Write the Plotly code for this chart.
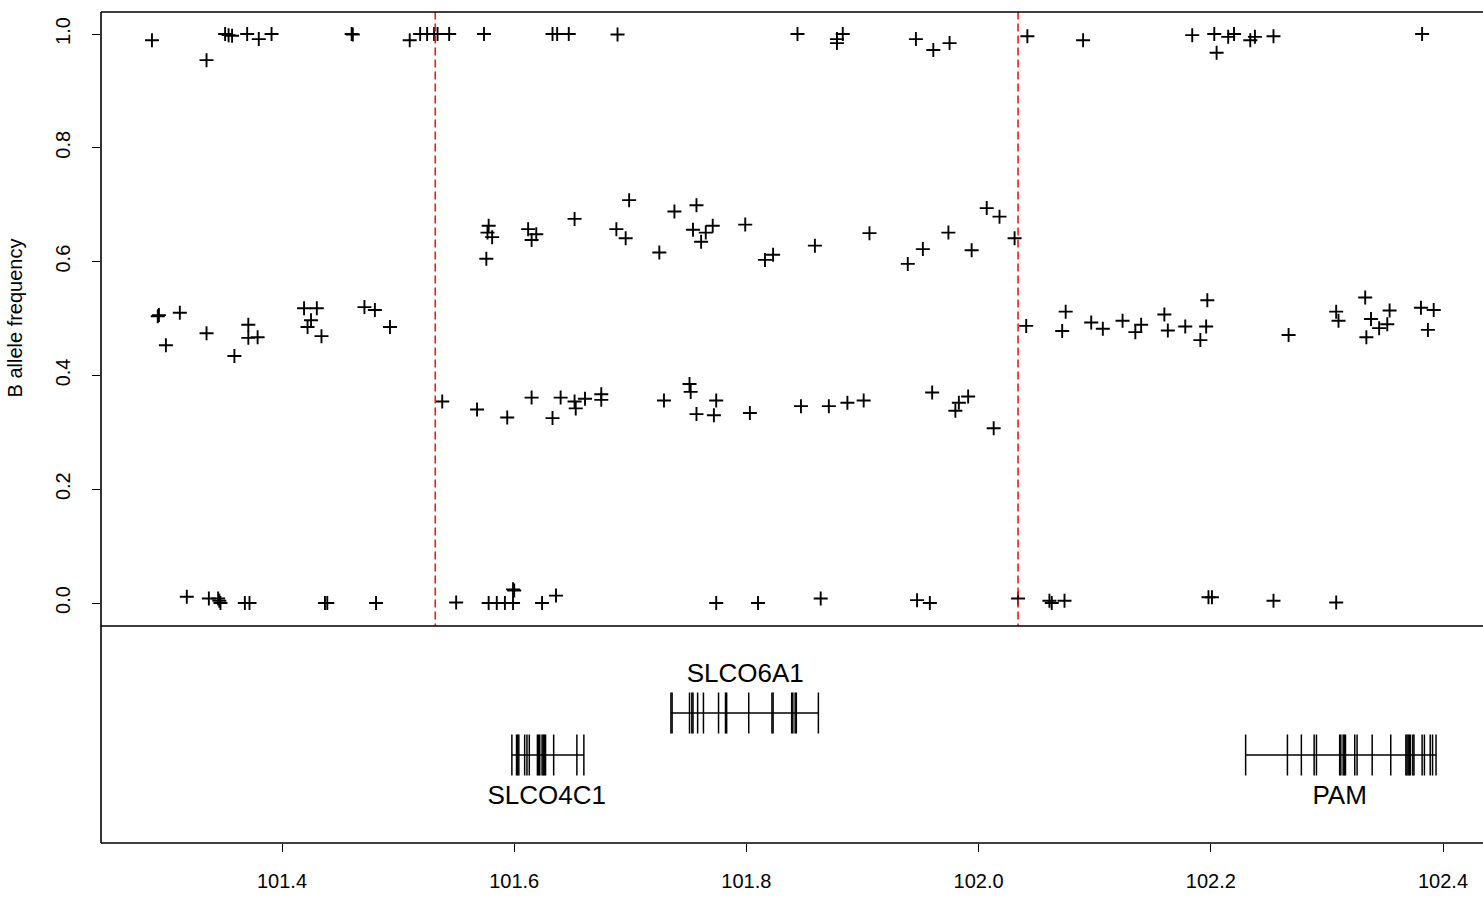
import plotly.graph_objects as go

# ---------------- data ----------------
# SNP positions (Mb) and B allele frequencies
pos_top = [101.288, 101.335, 101.351, 101.354, 101.357, 101.370, 101.380, 101.391, 101.460, 101.461,
           101.510, 101.519, 101.525, 101.531, 101.534, 101.544, 101.574, 101.633, 101.637, 101.647,
           101.689, 101.844, 101.878, 101.878, 101.883, 101.946, 101.961, 101.975, 102.042, 102.090,
           102.184, 102.203, 102.205, 102.215, 102.220, 102.234, 102.238, 102.254, 102.382]
baf_top = [0.989, 0.954, 1.000, 0.998, 0.997, 1.000, 0.991, 1.000, 1.000, 0.999,
           0.989, 1.000, 1.000, 1.000, 1.000, 1.000, 1.000, 1.000, 1.000, 1.000,
           0.999, 1.000, 0.984, 0.991, 1.000, 0.991, 0.972, 0.984, 0.996, 0.989,
           0.998, 1.000, 0.967, 0.995, 1.000, 0.989, 0.995, 0.996, 1.000]

pos_mid = [101.294, 101.293, 101.312, 101.300, 101.335, 101.359, 101.371, 101.371, 101.379, 101.419,
           101.430, 101.425, 101.422, 101.434, 101.471, 101.480, 101.493,
           101.578, 101.577, 101.581, 101.576, 101.612, 101.619, 101.615, 101.652, 101.699, 101.688,
           101.696, 101.725, 101.738, 101.757, 101.754, 101.765, 101.761, 101.771, 101.799, 101.816,
           101.823, 101.859, 101.906, 101.939, 101.952, 101.974, 101.994, 102.007, 102.018, 102.031,
           101.538, 101.568, 101.594, 101.615, 101.633, 101.640, 101.652, 101.653, 101.661, 101.675,
           101.675, 101.729, 101.751, 101.752, 101.757, 101.774, 101.772, 101.803, 101.847, 101.871,
           101.887, 101.901, 101.960, 101.983, 101.980, 101.991, 102.013,
           102.041, 102.075, 102.072, 102.097, 102.107, 102.124, 102.140, 102.135, 102.160, 102.163,
           102.178, 102.197, 102.196, 102.191, 102.267, 102.308, 102.310, 102.333, 102.338, 102.334,
           102.345, 102.352, 102.354, 102.381, 102.392, 102.387]
baf_mid = [0.506, 0.504, 0.510, 0.453, 0.474, 0.434, 0.489, 0.466, 0.467, 0.518,
           0.518, 0.497, 0.485, 0.469, 0.520, 0.515, 0.485,
           0.663, 0.651, 0.643, 0.605, 0.657, 0.648, 0.638, 0.675, 0.708, 0.657,
           0.641, 0.616, 0.688, 0.699, 0.656, 0.651, 0.635, 0.663, 0.665, 0.603,
           0.612, 0.628, 0.650, 0.596, 0.622, 0.651, 0.620, 0.694, 0.679, 0.641,
           0.354, 0.340, 0.326, 0.361, 0.325, 0.361, 0.354, 0.342, 0.359, 0.367,
           0.357, 0.356, 0.385, 0.371, 0.332, 0.356, 0.330, 0.334, 0.346, 0.346,
           0.352, 0.356, 0.370, 0.352, 0.338, 0.363, 0.307,
           0.487, 0.512, 0.478, 0.493, 0.482, 0.496, 0.489, 0.476, 0.507, 0.479,
           0.486, 0.532, 0.486, 0.462, 0.471, 0.512, 0.496, 0.537, 0.499, 0.467,
           0.483, 0.490, 0.514, 0.519, 0.515, 0.480]

pos_low = [101.318, 101.337, 101.345, 101.347, 101.346, 101.368, 101.372, 101.437, 101.439, 101.481,
           101.550, 101.578, 101.585, 101.592, 101.599, 101.599, 101.600, 101.624, 101.636,
           101.774, 101.810, 101.864, 101.947, 101.958, 102.034, 102.061, 102.063, 102.074,
           102.198, 102.201, 102.254, 102.308]
baf_low = [0.011, 0.008, 0.008, 0.000, 0.004, 0.000, 0.000, 0.000, 0.000, 0.000,
           0.001, 0.000, 0.000, 0.000, 0.000, 0.024, 0.022, 0.000, 0.013,
           0.000, 0.000, 0.008, 0.005, 0.000, 0.008, 0.004, 0.000, 0.004,
           0.010, 0.010, 0.004, 0.001]

# breakpoints (Mb)
breakpoints = [101.532, 102.034]

# genes
gene_names = ["SLCO4C1", "SLCO6A1", "PAM"]
gene_start = [101.598, 101.735, 102.230]
gene_end = [101.660, 101.862, 102.394]
gene_row = [0.4055, 0.599, 0.4055]
gene_label_y = [0.212, 0.774, 0.212]
gene_label_x = [101.628, 101.799, 102.311]
gene_exons = [
    [101.598, 101.602, 101.603, 101.604, 101.609, 101.611, 101.613, 101.620, 101.621, 101.622,
     101.624, 101.625, 101.626, 101.627, 101.634, 101.654, 101.660],
    [101.735, 101.736, 101.751, 101.753, 101.754, 101.758, 101.763, 101.776, 101.782, 101.783,
     101.802, 101.822, 101.823, 101.839, 101.840, 101.842, 101.843, 101.862],
    [102.230, 102.266, 102.278, 102.289, 102.291, 102.311, 102.312, 102.314, 102.315, 102.316,
     102.324, 102.326, 102.339, 102.355, 102.368, 102.369, 102.370, 102.371, 102.372, 102.374,
     102.375, 102.382, 102.384, 102.389, 102.391, 102.394],
]

x_ticks = [101.4, 101.6, 101.8, 102.0, 102.2, 102.4]
y_ticks = [0.0, 0.2, 0.4, 0.6, 0.8, 1.0]

# ---------------- figure ----------------
W, H = 1483, 898
ML, MT, MB = 101, 12, 55
plot_h = H - MT - MB
split = 217 / plot_h
EXON_HALF = 0.0945

fig = go.Figure()

fig.add_trace(go.Scatter(
    x=pos_top + pos_mid + pos_low, y=baf_top + baf_mid + baf_low,
    mode="markers", xaxis="x", yaxis="y",
    marker=dict(symbol="cross-thin", size=10, line=dict(width=1.9, color="black"), color="black"),
    hoverinfo="x+y", showlegend=False))

for bp in breakpoints:
    fig.add_trace(go.Scatter(x=[bp, bp], y=[-0.05, 1.05], mode="lines", xaxis="x", yaxis="y",
                             line=dict(color="#ee1c1c", width=1.6, dash="8px,4px"),
                             hoverinfo="skip", showlegend=False))

for name, s, e, row, exons, lx, ly in zip(gene_names, gene_start, gene_end, gene_row,
                                          gene_exons, gene_label_x, gene_label_y):
    fig.add_trace(go.Scatter(x=[s, e], y=[row, row], mode="lines", xaxis="x", yaxis="y2",
                             line=dict(color="black", width=1.6), hoverinfo="skip", showlegend=False))
    xs, ys = [], []
    for ex in exons:
        xs += [ex, ex, None]
        ys += [row - EXON_HALF, row + EXON_HALF, None]
    fig.add_trace(go.Scatter(x=xs, y=ys, mode="lines", xaxis="x", yaxis="y2",
                             line=dict(color="black", width=1.5), hoverinfo="skip", showlegend=False))
    fig.add_trace(go.Scatter(x=[lx], y=[ly], mode="text", text=[name], xaxis="x", yaxis="y2",
                             textfont=dict(family="Liberation Sans, Arial", size=26, color="black"),
                             hoverinfo="skip", showlegend=False))

x0 = 101.4 - (282 - ML) / 1161
x1 = 101.4 + (W - 282) / 1161
ytop = 1 + 22 / 569
ybot = -23 / 569

font = dict(family="Liberation Sans, Arial", size=20, color="black")

fig.update_layout(
    width=W, height=H,
    margin=dict(l=ML, r=0, t=MT, b=MB, pad=0),
    paper_bgcolor="white", plot_bgcolor="white",
    showlegend=False,
    font=font,
    xaxis=dict(domain=[0, 1], range=[x0, x1], anchor="y2", tickmode="array", tickvals=x_ticks,
               ticktext=[f"{v:.1f}" for v in x_ticks], ticks="outside", ticklen=8, tickwidth=1.2,
               tickcolor="black", showgrid=False, zeroline=False, showline=False,
               ticklabelstandoff=12, tickfont=font),
    yaxis=dict(domain=[split, 1], range=[ybot, ytop], anchor="x", tickmode="array", tickvals=y_ticks,
               ticktext=[f"{v:.1f}" for v in y_ticks], ticks="outside", ticklen=8, tickwidth=1.2,
               tickcolor="black", tickangle=-90, showgrid=False, zeroline=False, showline=False,
               ticklabelstandoff=14, tickfont=font),
    yaxis2=dict(domain=[0, split], range=[0, 1], anchor="x", showticklabels=False, ticks="",
                showgrid=False, zeroline=False, showline=False),
    shapes=[
        dict(type="line", xref="paper", yref="paper", x0=0, x1=1.01, y0=1, y1=1,
             line=dict(color="black", width=1.6), layer="above"),
        dict(type="line", xref="paper", yref="paper", x0=0, x1=1.01, y0=split, y1=split,
             line=dict(color="black", width=1.6), layer="above"),
        dict(type="line", xref="paper", yref="paper", x0=0, x1=1.01, y0=0, y1=0,
             line=dict(color="black", width=1.6), layer="above"),
        dict(type="line", xref="paper", yref="paper", x0=0, x1=0, y0=0, y1=1,
             line=dict(color="black", width=1.6), layer="above"),
    ],
    annotations=[dict(text="B allele frequency", xref="paper", yref="y", x=0, y=0.5,
                      xshift=-87, xanchor="center", yanchor="middle", textangle=-90,
                      showarrow=False, font=dict(family="Liberation Sans, Arial", size=20, color="black"))],
)

fig.write_html("out.html", config={"displayModeBar": False},
               post_script="document.body.style.margin='0';document.body.style.overflow='hidden';")
